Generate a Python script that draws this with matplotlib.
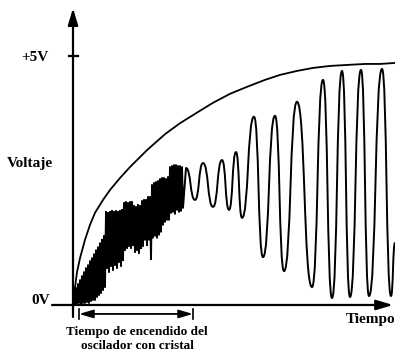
import matplotlib
matplotlib.use('Agg')
import matplotlib.pyplot as plt
from matplotlib.path import Path
from matplotlib.patches import PathPatch
import numpy as np

# arbitrary time units, volts
burst_hi_t = [1, 3, 5, 7, 9, 11, 13, 15, 17, 19, 21, 23, 25, 27, 29, 31,
              33, 35, 37, 39, 41, 43, 45, 47, 49, 51, 53, 55, 57, 59,
              61, 63, 65, 67, 69, 71, 73, 75, 77, 79, 81, 83, 85, 87, 89,
              91, 93, 95, 97, 99, 101, 103, 105, 107, 109]
burst_hi_v = [0.26, 0.34, 0.42, 0.50, 0.58, 0.66, 0.74, 0.80, 0.88, 0.94,
              1.02, 1.10, 1.16, 1.24, 1.31, 1.39,
              1.87, 1.85, 1.87, 1.89, 1.87, 1.89, 1.87, 1.89, 1.91,
              2.05, 2.07, 2.05, 2.07, 2.07, 1.99, 1.97, 2.01, 1.99,
              2.09, 2.11, 2.11, 2.17, 2.17,
              2.41, 2.45, 2.47, 2.49, 2.53, 2.55, 2.55, 2.53, 2.57,
              2.77, 2.79, 2.81, 2.81, 2.79, 2.79, 2.77]
burst_lo_t = [2, 4, 6, 8, 10, 12, 14, 16, 18, 20, 22, 24, 26, 28, 30, 32,
              34, 36, 38, 40, 42, 44, 46, 48, 50, 52, 54, 56, 58, 60,
              62, 64, 66, 68, 70, 72, 74, 76, 78, 80, 82, 84, 86, 88, 90,
              92, 94, 96, 98, 100, 102, 104, 106, 108, 110]
burst_lo_v = [0.02, 0.02, 0.04, 0.02, 0.04, 0.04, 0.06, 0.04, 0.08, 0.10,
              0.10, 0.16, 0.20, 0.24, 0.30, 0.36,
              0.74, 0.66, 0.78, 0.70, 0.80, 0.74, 0.86, 0.78, 0.90,
              1.10, 1.14, 1.18, 1.14, 1.20, 1.06, 1.10, 1.04, 1.14,
              1.18, 1.31, 1.20, 1.31, 0.92,
              1.35, 1.39, 1.35, 1.41, 1.47, 1.61, 1.67, 1.71, 1.71,
              1.85, 1.87, 1.83, 1.91, 1.87, 1.89, 1.95]

# peaks and troughs of the clean oscillation
wave_t = [113, 122, 130, 140, 149, 156, 163, 169, 181, 190, 202, 211,
          224, 239, 250, 259, 269, 277, 288, 296, 309, 318, 322]
wave_v = [2.75, 2.11, 2.85, 1.97, 2.91, 1.91, 3.07, 1.75, 3.78, 0.96,
          3.80, 0.68, 4.08, 0.36, 4.52, 0.14, 4.70, 0.16, 4.72, 0.18,
          4.74, 0.18, 1.25]

# supply envelope
env_t = [1, 4, 7, 12, 17, 22, 30, 37, 47, 57, 74, 92, 107, 127, 140,
         157, 174, 192, 207, 224, 240, 257, 274, 292, 307, 322]
env_v = [0.20, 0.66, 0.94, 1.31, 1.61, 1.85, 2.11, 2.31, 2.55, 2.77,
         3.11, 3.43, 3.65, 3.90, 4.06, 4.24, 4.38, 4.52, 4.62, 4.70,
         4.76, 4.80, 4.82, 4.84, 4.84, 4.86]

v_top = 5
startup_span = (6, 120)

serif = 'Liberation Serif'

fig = plt.figure(figsize=(3.95, 3.52), dpi=100)
ax = fig.add_axes([0, 0, 1, 1])
ax.set_xlim(-73, 322)
ax.set_ylim(-0.944, 6.124)
ax.axis('off')

# axes with arrows
ax.annotate('', xy=(0, 5.96), xytext=(0, -0.24),
            arrowprops=dict(arrowstyle='-|>,head_length=1.0,head_width=0.3',
                            lw=1.6, color='black', mutation_scale=10,
                            shrinkA=0, shrinkB=0))
ax.annotate('', xy=(320, 0), xytext=(-21, 0),
            arrowprops=dict(arrowstyle='-|>,head_length=1.0,head_width=0.3',
                            lw=1.6, color='black', mutation_scale=10,
                            shrinkA=0, shrinkB=0))
ax.plot([-4, 5], [v_top, v_top], color='black', lw=1.6)

# start-up burst + oscillation as one path
verts = [(0, 0.04)]
codes = [Path.MOVETO]
for th, vh, tl, vl in zip(burst_hi_t, burst_hi_v, burst_lo_t, burst_lo_v):
    verts += [(th, vh), (tl, vl)]
    codes += [Path.LINETO, Path.LINETO]
verts.append((wave_t[0], wave_v[0]))
codes.append(Path.LINETO)
k = 0.55
for i in range(len(wave_t) - 1):
    t0, v0, t1, v1 = wave_t[i], wave_v[i], wave_t[i + 1], wave_v[i + 1]
    dt = t1 - t0
    verts += [(t0 + k * dt, v0), (t1 - k * dt, v1), (t1, v1)]
    codes += [Path.CURVE4] * 3
ax.add_patch(PathPatch(Path(verts, codes), facecolor='none',
                       edgecolor='black', lw=1.4, joinstyle='round'))

ax.plot(env_t, env_v, color='black', lw=1.3)

# start-up time dimension
y_dim = -0.18
ax.annotate('', xy=(startup_span[1], y_dim), xytext=(startup_span[0], y_dim),
            arrowprops=dict(arrowstyle='<|-|>,head_length=1.2,head_width=0.35',
                            lw=1.3, color='black', mutation_scale=7,
                            shrinkA=0, shrinkB=0))
for tx in startup_span:
    ax.plot([tx, tx], [y_dim - 0.1, y_dim + 0.1], color='black', lw=1.2)

txt = dict(family=serif, weight='bold', color='black')
ax.text(-25, 4.96, '+5V', ha='right', va='center', fontsize=11, **txt)
ax.text(-66, 2.85, 'Voltaje', ha='left', va='center', fontsize=11, **txt)
ax.text(-23, 0.02, '0V', ha='right', va='baseline', fontsize=11, **txt)
ax.text(322, -0.30, 'Tiempo', ha='right', va='center', fontsize=11, **txt)
ax.text(64, -0.54, 'Tiempo de encendido del', ha='center', va='center',
        fontsize=9.5, **txt)
ax.text(64, -0.82, 'oscilador con cristal', ha='center', va='center',
        fontsize=9.5, **txt)

fig.savefig('out.png', dpi=100)
plt.close(fig)
